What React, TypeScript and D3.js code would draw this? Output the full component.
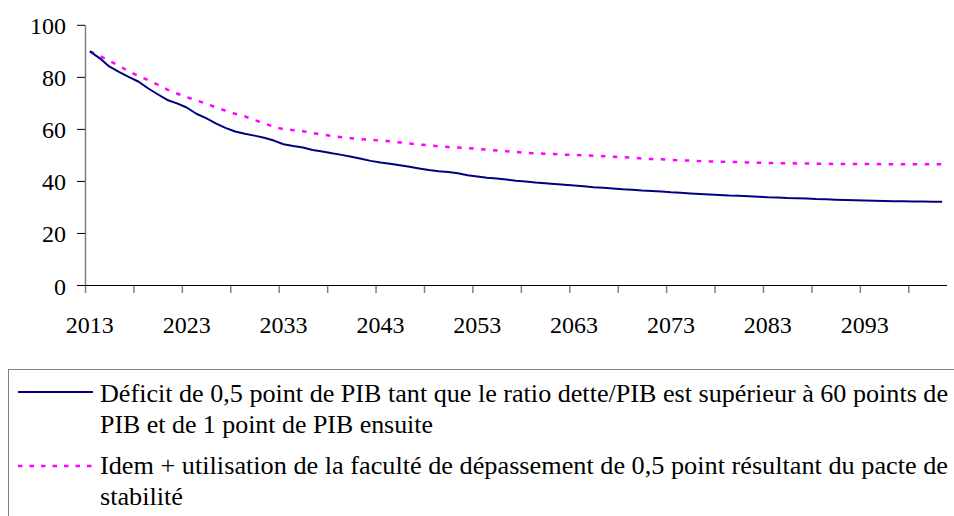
import React from "react";
import * as d3 from "d3";

const yearCategories: number[] = d3.range(2013, 2102);

const ratioDeficit: number[] = [
  90, 87.4, 84.2, 82.1, 80.2, 78.4, 75.8, 73.5, 71.3, 70.0,
  68.4, 66.0, 64.3, 62.3, 60.6, 59.2, 58.3, 57.6, 56.8, 55.7,
  54.3, 53.6, 53.0, 52.1, 51.5, 50.8, 50.2, 49.5, 48.7, 47.9,
  47.3, 46.8, 46.2, 45.6, 45.0, 44.4, 43.9, 43.6, 43.1, 42.4,
  41.9, 41.4, 41.1, 40.7, 40.3, 40.0, 39.6, 39.3, 39.0, 38.7,
  38.4, 38.1, 37.8, 37.6, 37.3, 37.0, 36.8, 36.5, 36.3, 36.1,
  35.8, 35.6, 35.4, 35.2, 35.0, 34.8, 34.6, 34.5, 34.3, 34.1,
  33.9, 33.8, 33.6, 33.5, 33.4, 33.2, 33.1, 33.0, 32.9, 32.8,
  32.7, 32.6, 32.5, 32.4, 32.4, 32.3, 32.3, 32.2, 32.2,
];

const ratioIdem: number[] = [
  90, 88.3, 86.3, 84.5, 82.3, 80.6, 79.0, 77.2, 75.3, 73.8,
  72.4, 71.2, 69.9, 68.5, 67.2, 66.0, 65.0, 63.6, 62.3, 61.0,
  60.1, 59.7, 59.3, 58.6, 58.0, 57.5, 57.0, 56.6, 56.2, 56.0,
  55.7, 55.4, 55.0, 54.6, 54.2, 53.9, 53.5, 53.2, 53.0, 52.8,
  52.5, 52.2, 51.9, 51.6, 51.3, 51.0, 50.8, 50.6, 50.5, 50.3,
  50.2, 50.0, 49.9, 49.7, 49.5, 49.3, 49.1, 48.8, 48.6, 48.5,
  48.3, 48.1, 48.0, 47.8, 47.7, 47.6, 47.5, 47.4, 47.3, 47.2,
  47.1, 47.0, 47.0, 46.9, 46.9, 46.8, 46.8, 46.7, 46.7, 46.7,
  46.7, 46.7, 46.6, 46.6, 46.6, 46.6, 46.6, 46.6, 46.6,
];

const yTickValues: number[] = [0, 20, 40, 60, 80, 100];
const xLabels: string[] = ["2013", "2023", "2033", "2043", "2053", "2063", "2073", "2083", "2093"];

const legendText: string[][] = [
  [
    "Déficit de 0,5 point de PIB tant que le ratio dette/PIB est supérieur à 60 points de",
    "PIB et de 1 point de PIB ensuite",
  ],
  [
    "Idem + utilisation de la faculté de dépassement de 0,5 point résultant du pacte de",
    "stabilité",
  ],
];

export default function App() {
  const W = 954;
  const H = 516;
  const x = d3.scaleBand<number>().domain(yearCategories).range([85, 947]).padding(0);
  const bw = x.bandwidth();
  const cx = (yr: number) => (x(yr) as number) + bw / 2;
  const y = d3.scaleLinear().domain([0, 100]).range([285.5, 25.3]);

  const line = d3
    .line<number>()
    .x((_, i) => cx(yearCategories[i]))
    .y((d) => y(d));

  const boundaryTicks = yearCategories.filter((_, i) => i % 5 === 0);

  const legendLineWidths = [[848, 333], [848, 83]];
  const legendBaselines = [[401.5, 433], [474, 505]];
  const legendSampleY = [392, 466];

  return (
    <svg width={W} height={H} style={{ position: "absolute", left: 0, top: 0 }}>
      <rect x={0} y={0} width={W} height={H} fill="#ffffff" />
      <line x1={85.5} x2={85.5} y1={25.3} y2={285.5} stroke="#808080" strokeWidth={1.5} />
      {yTickValues.map((t) => (
        <line key={"yt" + t} x1={77} x2={85} y1={y(t)} y2={y(t)} stroke="#000" strokeWidth={1} />
      ))}
      {yTickValues.map((t) => (
        <text key={"yl" + t} x={66} y={y(t) + 9} textAnchor="end" fontSize={24} style={{ fontFamily: "'Liberation Serif'" }}>
          {String(t)}
        </text>
      ))}
      {boundaryTicks.map((yr) => (
        <line
          key={yr}
          x1={(x(yr) as number) + 0.5}
          x2={(x(yr) as number) + 0.5}
          y1={285.5}
          y2={293}
          stroke="#808080"
          strokeWidth={1.5}
        />
      ))}
      <line x1={85} x2={947} y1={285.5} y2={285.5} stroke="#000" strokeWidth={1} />
      {xLabels.map((lab) => (
        <text key={lab} x={cx(+lab)} y={333} textAnchor="middle" fontSize={24} style={{ fontFamily: "'Liberation Serif'" }}>
          {lab}
        </text>
      ))}
      <path d={line(ratioIdem) || ""} fill="none" stroke="#FF00FF" strokeWidth={2.5} strokeDasharray="4.5,7.5" />
      <path d={line(ratioDeficit) || ""} fill="none" stroke="#000080" strokeWidth={2} strokeLinejoin="round" />

      <rect x={8.5} y={369.5} width={960} height={160} fill="none" stroke="#808080" strokeWidth={1} />
      <line x1={18} x2={93} y1={legendSampleY[0]} y2={legendSampleY[0]} stroke="#000080" strokeWidth={2} />
      <line
        x1={18}
        x2={93}
        y1={legendSampleY[1]}
        y2={legendSampleY[1]}
        stroke="#FF00FF"
        strokeWidth={2.5}
        strokeDasharray="4.5,7"
      />
      {legendText.map((lines, si) =>
        lines.map((txt, li) => (
          <text
            key={`${si}-${li}`}
            x={100}
            y={legendBaselines[si][li]}
            fontSize={25.5}
            style={{ fontFamily: "'Liberation Serif'" }}
            textLength={legendLineWidths[si][li]}
            lengthAdjust="spacingAndGlyphs"
          >
            {txt}
          </text>
        ))
      )}
    </svg>
  );
}
